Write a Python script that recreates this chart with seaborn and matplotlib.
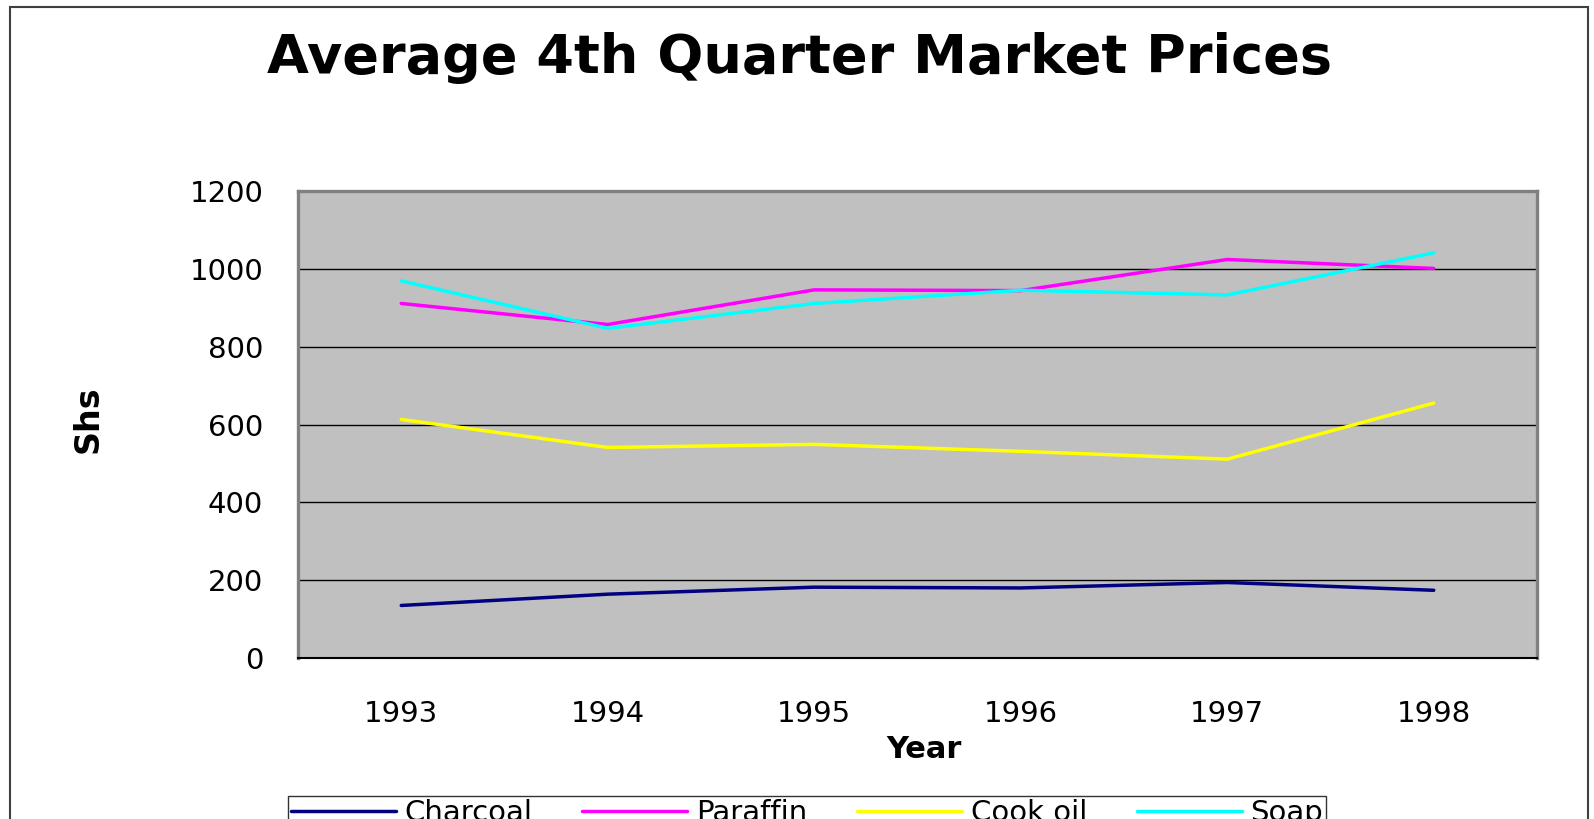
import pandas as pd
import numpy as np
import matplotlib
matplotlib.use("Agg")
import matplotlib.pyplot as plt
from matplotlib.patches import Rectangle
import seaborn as sns

# values
years = ["1993", "1994", "1995", "1996", "1997", "1998"]
charcoal = [135, 164, 182, 180, 194, 174]
paraffin = [911, 857, 946, 944, 1024, 1001]
cook_oil = [613, 541, 549, 531, 511, 655]
soap = [969, 847, 911, 945, 933, 1041]
series_names = ["Charcoal", "Paraffin", "Cook oil", "Soap"]
series_colors = ["#000080", "#FF00FF", "#FFFF00", "#00FFFF"]
y_ticks = [0, 200, 400, 600, 800, 1000, 1200]

df = pd.DataFrame({
    "Year": years * 4,
    "Price": charcoal + paraffin + cook_oil + soap,
    "Item": [n for n in series_names for _ in years],
})

sns.set_style("white")
plt.rcParams["font.family"] = ["DejaVu Sans"]
plt.rcParams["text.color"] = "black"
plt.rcParams["xtick.color"] = "black"
plt.rcParams["ytick.color"] = "black"

W, H = 1594, 819
fig = plt.figure(figsize=(W / 100, H / 100), dpi=100)
ax = fig.add_axes([298 / W, 1 - 658 / H, (1537 - 298) / W, (658 - 191) / H])
ax.set_facecolor("#C0C0C0")

sns.lineplot(data=df, x="Year", y="Price", hue="Item", hue_order=series_names,
             palette=series_colors, linewidth=2.5, ax=ax, legend=True, sort=False)

ax.set_xlim(-0.5, len(years) - 0.5)
ax.set_ylim(0, 1200)
ax.set_yticks(y_ticks)
ax.set_yticklabels([str(v) for v in y_ticks], fontsize=21)
ax.set_xticks(range(len(years)))
ax.set_xticklabels(years, fontsize=21)
ax.set_xticks(np.arange(-0.5, len(years), 1.0), minor=True)
ax.tick_params(axis="x", which="major", length=0, pad=30)
ax.tick_params(axis="x", which="minor", length=8, width=1, color="black", direction="out")
ax.tick_params(axis="y", which="major", length=9, width=1, color="black", direction="out", pad=16)
ax.yaxis.grid(True, color="black", linewidth=1)
ax.xaxis.grid(False)
ax.set_axisbelow(True)
ax.set_xlabel("")
ax.set_ylabel("")

for side in ["left", "top", "right"]:
    ax.spines[side].set_color("#808080")
    ax.spines[side].set_linewidth(2.4)
ax.spines["bottom"].set_color("black")
ax.spines["bottom"].set_linewidth(1.5)

handles, labels = ax.get_legend_handles_labels()
ax.get_legend().remove()
leg = fig.legend(handles, labels, loc="upper left", bbox_to_anchor=(288 / W, 1 - 796 / H),
                 ncol=4, fontsize=21, frameon=True, fancybox=False, edgecolor="black",
                 handlelength=3.6, handletextpad=0.3, columnspacing=1.7, borderpad=0.1,
                 borderaxespad=0)
leg.get_frame().set_linewidth(1)
for line in leg.get_lines():
    line.set_linewidth(2.5)

fig.text(800 / W, 1 - 58 / H, "Average 4th Quarter Market Prices", fontsize=39,
         fontweight="bold", ha="center", va="center")
fig.text(924 / W, 1 - 750 / H, "Year", fontsize=22, fontweight="bold", ha="center", va="center")
fig.text(88 / W, 1 - 419 / H, "Shs", fontsize=24, fontweight="bold", ha="center", va="center",
         rotation=90)

# outer chart border
fig.patches.append(Rectangle((10 / W, -0.05), (1588 - 10) / W, 1.05 - 7 / H,
                             transform=fig.transFigure, fill=False, edgecolor="#404040",
                             linewidth=1.5))

fig.savefig("out.png", dpi=100)
